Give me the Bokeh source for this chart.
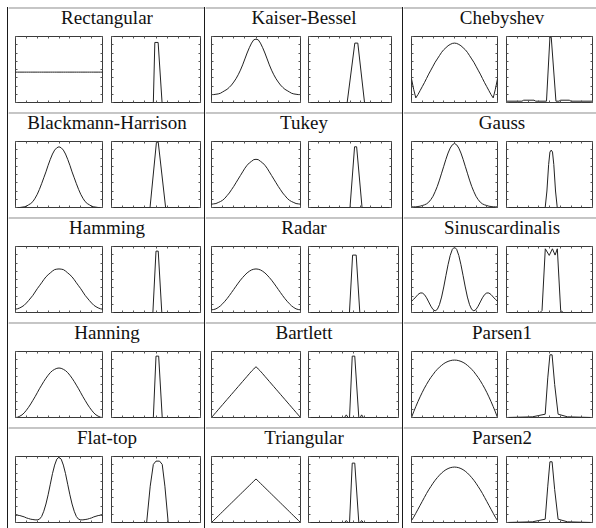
from bokeh.plotting import figure
from bokeh.layouts import row, column
from bokeh.models import (Range1d, LinearAxis, SingleIntervalTicker, CustomJSTickFormatter,
                          Div, Spacer)
from bokeh.core.properties import value
from bokeh.embed import file_html
from bokeh.resources import INLINE

# ---------------- data (fraction of plot height) -------------
T = list(range(41))  # sample index of the time-domain window

RECT_T = [0.46, 0.46, 0.46, 0.46, 0.46, 0.46, 0.46, 0.46, 0.46, 0.46, 0.46,
          0.46, 0.46, 0.46, 0.46, 0.46, 0.46, 0.46, 0.46, 0.46, 0.46,
          0.46, 0.46, 0.46, 0.46, 0.46, 0.46, 0.46, 0.46, 0.46, 0.46,
          0.46, 0.46, 0.46, 0.46, 0.46, 0.46, 0.46, 0.46, 0.46, 0.46]
RECT_FX = [0, 0.47, 0.487, 0.524, 0.568, 1]
RECT_FY = [0, 0, 0.91, 0.91, 0, 0]

KAISER_T = [0.12, 0.12, 0.125, 0.13, 0.14, 0.16, 0.18, 0.20, 0.23, 0.265, 0.31,
            0.36, 0.42, 0.49, 0.57, 0.66, 0.75, 0.83, 0.90, 0.95, 0.96,
            0.95, 0.90, 0.83, 0.75, 0.66, 0.57, 0.49, 0.42, 0.36, 0.31,
            0.265, 0.23, 0.20, 0.18, 0.16, 0.14, 0.13, 0.125, 0.12, 0.12]
KAISER_FX = [0, 0.466, 0.558, 0.594, 0.675, 1]
KAISER_FY = [0, 0, 0.9, 0.9, 0, 0]

CHEB_T = [0.36, 0.20, 0.07, 0.12, 0.18, 0.24, 0.30, 0.365, 0.43, 0.49, 0.55,
          0.61, 0.66, 0.71, 0.76, 0.80, 0.83, 0.86, 0.88, 0.895, 0.90,
          0.895, 0.88, 0.86, 0.83, 0.80, 0.76, 0.71, 0.66, 0.61, 0.55,
          0.49, 0.43, 0.365, 0.30, 0.24, 0.18, 0.12, 0.07, 0.20, 0.36]
CHEB_FX = [0, 0.18, 0.2, 0.32, 0.34, 0.465, 0.505, 0.52, 0.575, 0.61, 0.63, 0.73, 0.75, 1]
CHEB_FY = [0.02, 0.02, 0.035, 0.035, 0.02, 0.02, 0.99, 0.99, 0.02, 0.02, 0.035, 0.035, 0.02, 0.02]

BH_T = [0, 0, 0, 0.005, 0.01, 0.02, 0.04, 0.06, 0.09, 0.14, 0.20,
        0.275, 0.36, 0.45, 0.54, 0.64, 0.73, 0.81, 0.87, 0.905, 0.92,
        0.905, 0.87, 0.81, 0.73, 0.64, 0.54, 0.45, 0.36, 0.275, 0.20,
        0.14, 0.09, 0.06, 0.04, 0.02, 0.01, 0.005, 0, 0, 0]
BH_FX = [0, 0.433, 0.505, 0.525, 0.608, 1]
BH_FY = [0, 0, 0.99, 0.99, 0, 0]

TUKEY_T = [0.05, 0.055, 0.06, 0.075, 0.09, 0.11, 0.14, 0.18, 0.22, 0.27, 0.32,
           0.375, 0.43, 0.485, 0.54, 0.595, 0.64, 0.675, 0.70, 0.725, 0.73,
           0.725, 0.70, 0.675, 0.64, 0.595, 0.54, 0.485, 0.43, 0.375, 0.32,
           0.27, 0.22, 0.18, 0.14, 0.11, 0.09, 0.075, 0.06, 0.055, 0.05]
TUKEY_FX = [0, 0.50, 0.555, 0.58, 0.645, 1]
TUKEY_FY = [0, 0, 0.92, 0.92, 0, 0]

GAUSS_T = [0.01, 0.01, 0.01, 0.015, 0.02, 0.03, 0.04, 0.055, 0.08, 0.12, 0.17,
           0.24, 0.32, 0.415, 0.52, 0.625, 0.73, 0.825, 0.90, 0.95, 0.97,
           0.95, 0.90, 0.825, 0.73, 0.625, 0.52, 0.415, 0.32, 0.24, 0.17,
           0.12, 0.08, 0.055, 0.04, 0.03, 0.02, 0.015, 0.01, 0.01, 0.01]
GAUSS_FX = [0, 0.45, 0.47, 0.49, 0.505, 0.52, 0.535, 0.55, 0.57, 0.59, 1]
GAUSS_FY = [0, 0, 0.25, 0.65, 0.84, 0.87, 0.84, 0.65, 0.25, 0, 0]

HAMMING_T = [0.05, 0.057, 0.07, 0.088, 0.11, 0.143, 0.18, 0.22, 0.26, 0.31, 0.36,
             0.405, 0.45, 0.497, 0.54, 0.572, 0.60, 0.628, 0.65, 0.657, 0.66,
             0.657, 0.65, 0.628, 0.60, 0.572, 0.54, 0.497, 0.45, 0.405, 0.36,
             0.31, 0.26, 0.22, 0.18, 0.143, 0.11, 0.088, 0.07, 0.057, 0.05]
HAMMING_FX = [0, 0.465, 0.50, 0.525, 0.565, 1]
HAMMING_FY = [0, 0, 0.93, 0.93, 0, 0]

RADAR_T = [0.04, 0.045, 0.055, 0.075, 0.10, 0.133, 0.17, 0.21, 0.255, 0.302, 0.35,
           0.398, 0.445, 0.49, 0.53, 0.567, 0.60, 0.625, 0.645, 0.656, 0.66,
           0.656, 0.645, 0.625, 0.60, 0.567, 0.53, 0.49, 0.445, 0.398, 0.35,
           0.302, 0.255, 0.21, 0.17, 0.133, 0.10, 0.075, 0.055, 0.045, 0.04]
RADAR_FX = [0, 0.455, 0.49, 0.53, 0.57, 1]
RADAR_FY = [0, 0, 0.87, 0.87, 0, 0]

SINC_T = [0.17, 0.20, 0.235, 0.272, 0.295, 0.296, 0.272, 0.223, 0.16, 0.096, 0.045,
          0.025, 0.047, 0.118, 0.234, 0.387, 0.558, 0.724, 0.864, 0.957, 0.99,
          0.957, 0.864, 0.724, 0.558, 0.387, 0.234, 0.118, 0.047, 0.025, 0.045,
          0.096, 0.16, 0.223, 0.272, 0.296, 0.295, 0.272, 0.235, 0.20, 0.17]
SINC_FX = [0, 0.39, 0.413, 0.451, 0.497, 0.534, 0.565, 0.591, 0.63, 0.66, 1]
SINC_FY = [0, 0, 0.03, 0.965, 0.865, 0.965, 0.87, 0.965, 0.03, 0, 0]

HANNING_T = [0, 0.005, 0.02, 0.04, 0.07, 0.11, 0.155, 0.205, 0.26, 0.315, 0.375,
             0.435, 0.49, 0.545, 0.595, 0.64, 0.68, 0.71, 0.73, 0.745, 0.75,
             0.745, 0.73, 0.71, 0.68, 0.64, 0.595, 0.545, 0.49, 0.435, 0.375,
             0.315, 0.26, 0.205, 0.155, 0.11, 0.07, 0.04, 0.02, 0.005, 0]
HANNING_FX = [0, 0.47, 0.50, 0.53, 0.57, 1]
HANNING_FY = [0, 0, 0.93, 0.93, 0, 0]

BART_T = [0, 0.039, 0.078, 0.117, 0.156, 0.195, 0.234, 0.273, 0.312, 0.351, 0.39,
          0.429, 0.468, 0.507, 0.546, 0.585, 0.624, 0.663, 0.702, 0.735, 0.77,
          0.735, 0.702, 0.663, 0.624, 0.585, 0.546, 0.507, 0.468, 0.429, 0.39,
          0.351, 0.312, 0.273, 0.234, 0.195, 0.156, 0.117, 0.078, 0.039, 0]
BART_FX = [0, 0.40, 0.42, 0.44, 0.456, 0.486, 0.514, 0.559, 0.575, 0.59, 0.61, 1]
BART_FY = [0, 0, 0.04, 0, 0, 0.93, 0.93, 0, 0, 0.04, 0, 0]

PARSEN1_T = [0, 0.085, 0.165, 0.241, 0.313, 0.381, 0.444, 0.502, 0.557, 0.607, 0.65,
             0.694, 0.73, 0.763, 0.79, 0.816, 0.835, 0.85, 0.861, 0.868, 0.87,
             0.868, 0.861, 0.85, 0.835, 0.816, 0.79, 0.763, 0.73, 0.694, 0.65,
             0.607, 0.557, 0.502, 0.444, 0.381, 0.313, 0.241, 0.165, 0.085, 0]
PARSEN1_FX = [0, 0.3, 0.45, 0.48, 0.505, 0.53, 0.56, 0.6, 0.71, 1]
PARSEN1_FY = [0, 0.01, 0.05, 0.6, 0.95, 0.95, 0.5, 0.05, 0.01, 0]

FLAT_T = [0.11, 0.11, 0.105, 0.095, 0.085, 0.07, 0.06, 0.05, 0.045, 0.04, 0.04,
          0.05, 0.09, 0.17, 0.28, 0.42, 0.58, 0.74, 0.87, 0.96, 0.99,
          0.96, 0.87, 0.74, 0.58, 0.42, 0.28, 0.17, 0.09, 0.05, 0.04,
          0.04, 0.045, 0.05, 0.06, 0.07, 0.085, 0.095, 0.105, 0.11, 0.11]
FLAT_FX = [0, 0.395, 0.435, 0.47, 0.50, 0.54, 0.57, 0.60, 0.637, 1]
FLAT_FY = [0, 0, 0.55, 0.88, 0.93, 0.93, 0.88, 0.55, 0, 0]

TRI_T = [0, 0.033, 0.066, 0.099, 0.132, 0.165, 0.198, 0.231, 0.264, 0.297, 0.33,
         0.363, 0.396, 0.429, 0.462, 0.495, 0.528, 0.561, 0.594, 0.627, 0.66,
         0.627, 0.594, 0.561, 0.528, 0.495, 0.462, 0.429, 0.396, 0.363, 0.33,
         0.297, 0.264, 0.231, 0.198, 0.165, 0.132, 0.099, 0.066, 0.033, 0]
TRI_FX = [0, 0.40, 0.42, 0.44, 0.456, 0.486, 0.514, 0.559, 0.575, 0.59, 0.61, 1]
TRI_FY = [0, 0, 0.03, 0, 0, 0.9, 0.9, 0, 0, 0.03, 0, 0]

PARSEN2_T = [0.03, 0.08, 0.14, 0.20, 0.26, 0.32, 0.38, 0.44, 0.495, 0.545, 0.595,
             0.64, 0.68, 0.717, 0.75, 0.777, 0.80, 0.817, 0.83, 0.837, 0.84,
             0.837, 0.83, 0.817, 0.80, 0.777, 0.75, 0.717, 0.68, 0.64, 0.595,
             0.545, 0.495, 0.44, 0.38, 0.32, 0.26, 0.20, 0.14, 0.08, 0.03]
PARSEN2_FX = [0, 0.3, 0.45, 0.48, 0.505, 0.53, 0.56, 0.6, 0.71, 1]
PARSEN2_FY = [0, 0.01, 0.05, 0.55, 0.92, 0.92, 0.5, 0.05, 0.01, 0]

NAMES = [["Rectangular", "Kaiser-Bessel", "Chebyshev"],
         ["Blackmann-Harrison", "Tukey", "Gauss"],
         ["Hamming", "Radar", "Sinuscardinalis"],
         ["Hanning", "Bartlett", "Parsen1"],
         ["Flat-top", "Triangular", "Parsen2"]]
TIME = [[RECT_T, KAISER_T, CHEB_T], [BH_T, TUKEY_T, GAUSS_T], [HAMMING_T, RADAR_T, SINC_T],
        [HANNING_T, BART_T, PARSEN1_T], [FLAT_T, TRI_T, PARSEN2_T]]
FREQ_X = [[RECT_FX, KAISER_FX, CHEB_FX], [BH_FX, TUKEY_FX, GAUSS_FX], [HAMMING_FX, RADAR_FX, SINC_FX],
          [HANNING_FX, BART_FX, PARSEN1_FX], [FLAT_FX, TRI_FX, PARSEN2_FX]]
FREQ_Y = [[RECT_FY, KAISER_FY, CHEB_FY], [BH_FY, TUKEY_FY, GAUSS_FY], [HAMMING_FY, RADAR_FY, SINC_FY],
          [HANNING_FY, BART_FY, PARSEN1_FY], [FLAT_FY, TRI_FY, PARSEN2_FY]]

# ---------------- layout (pixels) ----------------
OFFSET = 7
COL_W = [196, 197, 193]
LEFT_GEOM = [(7, 87, 4), (6, 89, 4), (8, 86, 4)]          # border-left, frame, border-right
RIGHT_GEOM = [[(5, 90, 3), (4, 83, 11), (5, 89, 1)],
              [(5, 90, 3), (4, 83, 11), (5, 89, 1)],
              [(5, 90, 3), (4, 91, 3), (5, 89, 1)],
              [(5, 90, 3), (4, 91, 3), (5, 89, 1)],
              [(5, 90, 3), (4, 91, 3), (5, 89, 1)]]
TITLE_H = 25          # title strip incl. the 1px table rule on its top edge
TITLE_X = 98.5
TITLE_MID = 8.5       # px below the rule
ROW_V = [(1, 69, 10), (1, 69, 10), (1, 69, 10), (1, 69, 10), (1, 69, 6)]  # top, frame, bottom
LINE_COLOR = "#1a1a1a"


def rule(w, h):
    return Div(text="", width=w, height=h,
               styles={"background-color": LINE_COLOR, "margin": "0", "padding": "0"})


def add_axes(p, xint, yint):
    fmt = CustomJSTickFormatter(code="return ''")
    for loc in ("below", "above", "left", "right"):
        interval = xint if loc in ("below", "above") else yint
        ax = LinearAxis(ticker=SingleIntervalTicker(interval=interval), formatter=fmt,
                        major_tick_in=2, major_tick_out=0, minor_tick_line_color=None,
                        axis_line_color=None, major_tick_line_color="#555555",
                        major_label_text_font_size="0px", major_label_standoff=0)
        p.add_layout(ax, loc)


def panel(xs, ys, geom, vgeom, xend, xint):
    bl, fw, br = geom
    bt, fh, bb = vgeom
    p = figure(width=bl + fw + br, height=bt + fh + bb, toolbar_location=None,
               output_backend="svg", x_range=Range1d(0, xend), y_range=Range1d(0, 1),
               min_border_left=bl, min_border_right=br, min_border_top=bt,
               min_border_bottom=bb, x_axis_type=None, y_axis_type=None,
               background_fill_color="white", border_fill_color="white",
               outline_line_color="#3a3a3a", outline_line_width=1)
    add_axes(p, xint, 0.125)
    p.line(xs, ys, line_color="#222222", line_width=1)
    return p


def title_fig(name, w):
    tf = figure(width=w, height=TITLE_H, toolbar_location=None, output_backend="svg",
                min_border=0, min_border_top=1, x_axis_type=None, y_axis_type=None,
                outline_line_color=None, x_range=Range1d(0, w), y_range=Range1d(TITLE_H - 1, 0),
                background_fill_color="white", border_fill_color=LINE_COLOR)
    tf.text(x=[TITLE_X], y=[TITLE_MID], text=[name],
            text_font=value("Liberation Serif"), text_font_size="19px",
            text_align="center", text_baseline="middle", text_color="#111111")
    return tf


bands = [Spacer(width=589, height=OFFSET)]
for r in range(5):
    bt, fh, bb = ROW_V[r]
    band_h = TITLE_H + bt + fh + bb
    cells = [Spacer(width=OFFSET, height=band_h)]
    for c in range(3):
        cells.append(rule(1, band_h))
        left = panel(T, TIME[r][c], LEFT_GEOM[c], ROW_V[r], 40, 5)
        right = panel(FREQ_X[r][c], FREQ_Y[r][c], RIGHT_GEOM[r][c], ROW_V[r], 1, 0.125)
        cells.append(column(title_fig(NAMES[r][c], COL_W[c]), row(left, right, spacing=0), spacing=0))
    bands.append(row(*cells, spacing=0))

layout = column(*bands, spacing=0)

with open("out.html", "w") as f:
    f.write(file_html(layout, INLINE))
